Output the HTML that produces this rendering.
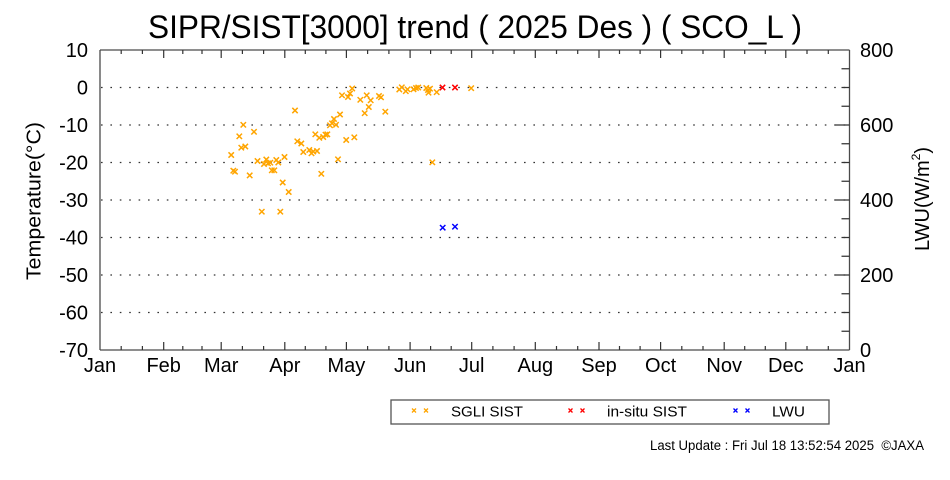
<!DOCTYPE html>
<html>
<head>
<meta charset="utf-8">
<style>
  html, body { margin:0; padding:0; background:#ffffff; }
  svg { display:block; }
  text { font-family: "Liberation Sans", Arial, sans-serif; fill:#000; }
</style>
</head>
<body>
<svg width="950" height="480" viewBox="0 0 950 480" xmlns="http://www.w3.org/2000/svg">
  <defs>
    <g id="mk"><path d="M-2.7,-2.7 L2.7,2.7 M-2.7,2.7 L2.7,-2.7" stroke-width="1.5" fill="none"/></g>
    <g id="mks"><path d="M-2,-2 L2,2 M-2,2 L2,-2" stroke-width="1.3" fill="none"/></g>
  </defs>
  <rect width="950" height="480" fill="#fff"/>

  <text x="475" y="38" font-size="32" text-anchor="middle" textLength="654" lengthAdjust="spacingAndGlyphs">SIPR/SIST[3000] trend ( 2025 Des ) ( SCO_L )</text>

  <g stroke="#333" stroke-width="1.3" stroke-dasharray="1.6 7.8">
    <line x1="101" y1="87.5" x2="849" y2="87.5"/>
    <line x1="101" y1="125" x2="849" y2="125"/>
    <line x1="101" y1="162.5" x2="849" y2="162.5"/>
    <line x1="101" y1="200" x2="849" y2="200"/>
    <line x1="101" y1="237.5" x2="849" y2="237.5"/>
    <line x1="101" y1="275" x2="849" y2="275"/>
    <line x1="101" y1="312.5" x2="849" y2="312.5"/>
  </g>

  <g stroke="#4a4a4a" stroke-width="1.3" fill="none">
    <line x1="100" y1="50" x2="100" y2="350"/>
    <line x1="849.5" y1="50" x2="849.5" y2="350"/>
    <line x1="100" y1="50" x2="849.5" y2="50"/>
    <line x1="100" y1="350" x2="849.5" y2="350"/>
  </g>

  <g stroke="#333" stroke-width="1.2">
    <path d="M163.7,350 v-8 M221.2,350 v-8 M284.8,350 v-8 M346.4,350 v-8 M410.1,350 v-8 M471.7,350 v-8 M535.3,350 v-8 M599,350 v-8 M660.6,350 v-8 M724.2,350 v-8 M785.8,350 v-8 M163.7,50 v8 M221.2,50 v8 M284.8,50 v8 M346.4,50 v8 M410.1,50 v8 M471.7,50 v8 M535.3,50 v8 M599,50 v8 M660.6,50 v8 M724.2,50 v8 M785.8,50 v8"/>
    <path d="M121.2,350 v-4 M142.4,350 v-4 M182.8,350 v-4 M202,350 v-4 M242.4,350 v-4 M263.6,350 v-4 M305.3,350 v-4 M325.9,350 v-4 M367.6,350 v-4 M388.9,350 v-4 M430.6,350 v-4 M451.2,350 v-4 M492.9,350 v-4 M514.1,350 v-4 M556.5,350 v-4 M577.7,350 v-4 M619.5,350 v-4 M640.1,350 v-4 M681.8,350 v-4 M703,350 v-4 M744.7,350 v-4 M765.3,350 v-4 M807,350 v-4 M828.3,350 v-4 M121.2,50 v4 M142.4,50 v4 M182.8,50 v4 M202,50 v4 M242.4,50 v4 M263.6,50 v4 M305.3,50 v4 M325.9,50 v4 M367.6,50 v4 M388.9,50 v4 M430.6,50 v4 M451.2,50 v4 M492.9,50 v4 M514.1,50 v4 M556.5,50 v4 M577.7,50 v4 M619.5,50 v4 M640.1,50 v4 M681.8,50 v4 M703,50 v4 M744.7,50 v4 M765.3,50 v4 M807,50 v4 M828.3,50 v4"/>
    <path d="M849.5,125 h-14 M849.5,200 h-14 M849.5,275 h-14 M849.5,68.75 h-8 M849.5,87.5 h-8 M849.5,106.25 h-8 M849.5,143.75 h-8 M849.5,162.5 h-8 M849.5,181.25 h-8 M849.5,218.75 h-8 M849.5,237.5 h-8 M849.5,256.25 h-8 M849.5,293.75 h-8 M849.5,312.5 h-8 M849.5,331.25 h-8"/>
  </g>

  <g font-size="20" text-anchor="end">
    <text x="88" y="57">10</text>
    <text x="88" y="94.5">0</text>
    <text x="88" y="132">-10</text>
    <text x="88" y="169.5">-20</text>
    <text x="88" y="207">-30</text>
    <text x="88" y="244.5">-40</text>
    <text x="88" y="282">-50</text>
    <text x="88" y="319.5">-60</text>
    <text x="88" y="357">-70</text>
  </g>

  <g font-size="20" text-anchor="start">
    <text x="860" y="57">800</text>
    <text x="860" y="132">600</text>
    <text x="860" y="207">400</text>
    <text x="860" y="282">200</text>
    <text x="860" y="357">0</text>
  </g>

  <g font-size="20" text-anchor="middle">
    <text x="100" y="372">Jan</text>
    <text x="163.7" y="372">Feb</text>
    <text x="221.2" y="372">Mar</text>
    <text x="284.8" y="372">Apr</text>
    <text x="346.4" y="372">May</text>
    <text x="410.1" y="372">Jun</text>
    <text x="471.7" y="372">Jul</text>
    <text x="535.3" y="372">Aug</text>
    <text x="599" y="372">Sep</text>
    <text x="660.6" y="372">Oct</text>
    <text x="724.2" y="372">Nov</text>
    <text x="785.8" y="372">Dec</text>
    <text x="849.5" y="372">Jan</text>
  </g>

  <text transform="translate(40.5,201) rotate(-90)" font-size="20" text-anchor="middle" textLength="158" lengthAdjust="spacingAndGlyphs">Temperature(°C)</text>
  <text transform="translate(929,199) rotate(-90)" font-size="20" text-anchor="middle">LWU(W/m<tspan font-size="12" dy="-9">2</tspan><tspan dy="9">)</tspan></text>

  <g stroke="#FFA500">
    <use href="#mk" x="231.2" y="155"/>
    <use href="#mk" x="233.3" y="170.7"/>
    <use href="#mk" x="235" y="171.7"/>
    <use href="#mk" x="239.3" y="136.3"/>
    <use href="#mk" x="241.3" y="147.7"/>
    <use href="#mk" x="245.3" y="146.5"/>
    <use href="#mk" x="243.3" y="124.8"/>
    <use href="#mk" x="249.7" y="175.4"/>
    <use href="#mk" x="254" y="131.8"/>
    <use href="#mk" x="257.5" y="161"/>
    <use href="#mk" x="261.8" y="211.7"/>
    <use href="#mk" x="264" y="164"/>
    <use href="#mk" x="266.3" y="159.5"/>
    <use href="#mk" x="268" y="163.3"/>
    <use href="#mk" x="270.3" y="162.7"/>
    <use href="#mk" x="271.8" y="170.3"/>
    <use href="#mk" x="274.3" y="170.3"/>
    <use href="#mk" x="276.3" y="160"/>
    <use href="#mk" x="278.3" y="162.5"/>
    <use href="#mk" x="280.3" y="211.7"/>
    <use href="#mk" x="282.7" y="182.5"/>
    <use href="#mk" x="284.5" y="157"/>
    <use href="#mk" x="288.7" y="192"/>
    <use href="#mk" x="295" y="110.5"/>
    <use href="#mk" x="297.3" y="141.3"/>
    <use href="#mk" x="301.3" y="143.5"/>
    <use href="#mk" x="303.3" y="152"/>
    <use href="#mk" x="309.3" y="150"/>
    <use href="#mk" x="311.5" y="153.3"/>
    <use href="#mk" x="313.3" y="151.5"/>
    <use href="#mk" x="317" y="151"/>
    <use href="#mk" x="315.3" y="134.3"/>
    <use href="#mk" x="319.3" y="137.8"/>
    <use href="#mk" x="323.2" y="137"/>
    <use href="#mk" x="325.5" y="134.7"/>
    <use href="#mk" x="327.3" y="134.3"/>
    <use href="#mk" x="321.3" y="173.8"/>
    <use href="#mk" x="330" y="125.3"/>
    <use href="#mk" x="332" y="123.3"/>
    <use href="#mk" x="334" y="119"/>
    <use href="#mk" x="336" y="124.8"/>
    <use href="#mk" x="338" y="159.3"/>
    <use href="#mk" x="340" y="114.5"/>
    <use href="#mk" x="342" y="95.3"/>
    <use href="#mk" x="348" y="97"/>
    <use href="#mk" x="350" y="93.5"/>
    <use href="#mk" x="352.2" y="88.5"/>
    <use href="#mk" x="346.2" y="140"/>
    <use href="#mk" x="354.3" y="137.3"/>
    <use href="#mk" x="360.3" y="99.8"/>
    <use href="#mk" x="366.7" y="95.3"/>
    <use href="#mk" x="370.7" y="100.3"/>
    <use href="#mk" x="364.7" y="113.2"/>
    <use href="#mk" x="368.8" y="107"/>
    <use href="#mk" x="379" y="96"/>
    <use href="#mk" x="381" y="97.3"/>
    <use href="#mk" x="385.3" y="111.7"/>
    <use href="#mk" x="399.3" y="89.5"/>
    <use href="#mk" x="401.8" y="87.3"/>
    <use href="#mk" x="405.8" y="91.2"/>
    <use href="#mk" x="407.5" y="89.3"/>
    <use href="#mk" x="413.5" y="89.3"/>
    <use href="#mk" x="416" y="88"/>
    <use href="#mk" x="418.2" y="87.5"/>
    <use href="#mk" x="426.3" y="88"/>
    <use href="#mk" x="428.5" y="92.7"/>
    <use href="#mk" x="430" y="88.7"/>
    <use href="#mk" x="428" y="90"/>
    <use href="#mk" x="432.3" y="162.3"/>
    <use href="#mk" x="436.7" y="92.2"/>
    <use href="#mk" x="471.2" y="88.2"/>
  </g>

  <g stroke="#FF0000">
    <use href="#mk" x="442.5" y="87.5"/>
    <use href="#mk" x="455" y="87.5"/>
  </g>

  <g stroke="#0000FF">
    <use href="#mk" x="442.7" y="227.7"/>
    <use href="#mk" x="455" y="226.7"/>
  </g>

  <rect x="391" y="400" width="438" height="24" fill="#fff" stroke="#555" stroke-width="1.3"/>
  <g stroke="#FFA500">
    <use href="#mks" x="414" y="410.5"/>
    <use href="#mks" x="426" y="410.5"/>
  </g>
  <g stroke="#FF0000">
    <use href="#mks" x="570.5" y="410.5"/>
    <use href="#mks" x="582.5" y="410.5"/>
  </g>
  <g stroke="#0000FF">
    <use href="#mks" x="735.5" y="410.5"/>
    <use href="#mks" x="747.5" y="410.5"/>
  </g>
  <g font-size="15">
    <text x="451" y="416.5" textLength="72" lengthAdjust="spacingAndGlyphs">SGLI SIST</text>
    <text x="607" y="416.5" textLength="80" lengthAdjust="spacingAndGlyphs">in-situ SIST</text>
    <text x="772" y="416.5" textLength="33" lengthAdjust="spacingAndGlyphs">LWU</text>
  </g>

  <text x="650" y="450" font-size="13.5" textLength="274" lengthAdjust="spacingAndGlyphs">Last Update : Fri Jul 18 13:52:54 2025&#160;&#160;©JAXA</text>
</svg>
</body>
</html>
